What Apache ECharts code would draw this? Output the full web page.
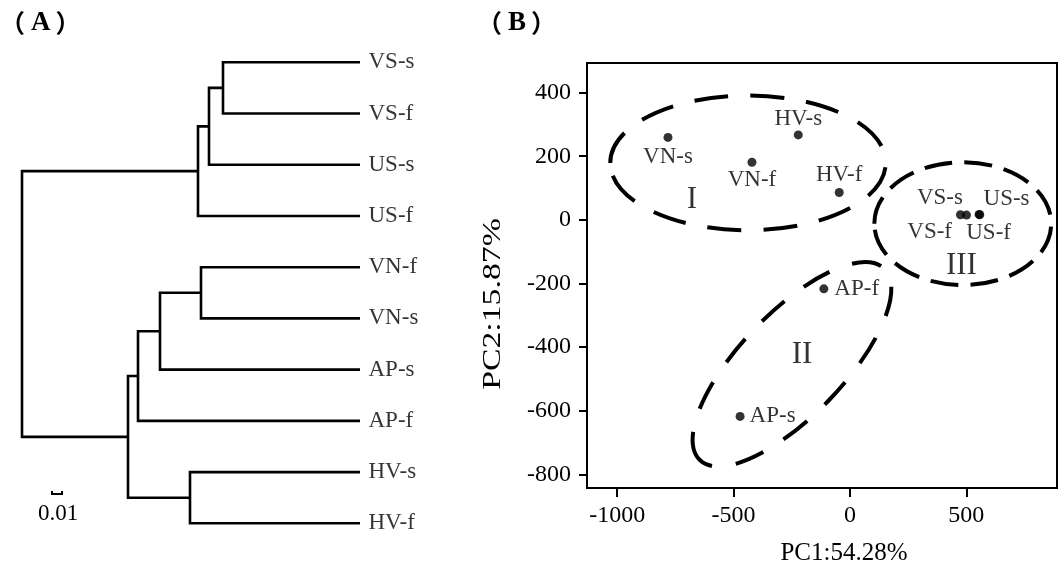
<!DOCTYPE html>
<html>
<head>
<meta charset="utf-8">
<script src="https://cdn.jsdelivr.net/npm/echarts@6/dist/echarts.min.js"></script>
<style>
  html, body { margin: 0; padding: 0; background: #fff; }
  #chart { width: 1060px; height: 571px; }
</style>
</head>
<body>
<div id="chart"></div>
<script>
// ---- (A) dendrogram ----
const leafNames = ['VS-s', 'VS-f', 'US-s', 'US-f', 'VN-f', 'VN-s', 'AP-s', 'AP-f', 'HV-s', 'HV-f']
const leafDepth = 0.338
// merges: leaves are 0..9, each merge creates node 10, 11, ...
const mergeA = [0, 10, 11, 4, 13, 14, 8, 15, 12]
const mergeB = [1, 2, 3, 5, 6, 7, 9, 16, 17]
const mergeHeight = [0.201, 0.187, 0.176, 0.179, 0.138, 0.116, 0.168, 0.106, 0]
const scaleBar = 0.01
const scaleBarPos = [0.030, 8.43]

// ---- (B) PCA ----
const pcaNames = ['VN-s', 'VN-f', 'HV-s', 'HV-f', 'VS-s', 'VS-f', 'US-s', 'US-f', 'AP-f', 'AP-s']
const pc1 = [-782, -421, -222, -46, 475, 501, 555, 558, -112, -472]
const pc2 = [259, 181, 267, 86, 16, 15, 17, 16, -217, -618]
const xTicks = [-1000, -500, 0, 500]
const yTicks = [-800, -600, -400, -200, 0, 200, 400]
const groupNames = ['I', 'II', 'III']
const groupX = [-679, -206, 479]
const groupY = [62, -423, -145]
// cluster ellipses: centre, end of the major semi-axis, minor/major ratio
const ellCx = [-438, -249, 485]
const ellCy = [179, -454, -12]
const ellEx = [154, 147, 865]
const ellEy = [179, -153, -12]
const ellRatio = [0.489, 0.388, 0.695]

const serif = "'Liberation Serif', 'Times New Roman', serif"
const ink = '#000'

// dendrogram layout: leaf rows, internal node sits midway between its children
const nodeY = leafNames.map((_, i) => i)
const nodeH = leafNames.map(() => leafDepth)
mergeA.forEach((a, k) => {
  nodeY.push((nodeY[a] + nodeY[mergeB[k]]) / 2)
  nodeH.push(mergeHeight[k])
})
const treeData = mergeA.map((a, k) => {
  const b = mergeB[k]
  return [mergeHeight[k], nodeY[a], nodeY[b], nodeH[a], nodeH[b]]
})

const labelPlace = {
  'VN-s': { position: 'bottom', distance: 4 },
  'VN-f': { position: 'bottom', distance: 2 },
  'HV-s': { position: 'top', distance: 0 },
  'HV-f': { position: 'top', distance: 2 },
  'VS-s': { position: 'left', offset: [12, -17] },
  'VS-f': { position: 'left', offset: [-5, 17] },
  'US-s': { position: 'right', offset: [-5, -15] },
  'US-f': { position: 'right', offset: [-23, 18] },
  'AP-f': { position: 'right', distance: 6 },
  'AP-s': { position: 'right', distance: 5 }
}
const ellDash = [[34, 22], [30, 24], [28, 12]]

const panelTitle = (letter, left) => ({
  text: '{p|（}{a|' + letter + '}{p|）}', left: left, top: 10, padding: 0,
  textStyle: {
    rich: {
      p: { fontFamily: "'Noto Sans CJK SC'", fontSize: 25, color: ink },
      a: { fontFamily: serif, fontSize: 27, fontWeight: 'bold', color: ink, padding: [0, 5, 0, 6] }
    }
  }
})

const chart = echarts.init(document.getElementById('chart'))

const option = {
  animation: false,
  backgroundColor: '#fff',
  title: [panelTitle('A', 0), panelTitle('B', 477)],
  grid: [
    { left: 22, right: 700, top: 62.3, bottom: 47.7 },
    { left: 587, right: 3, top: 63, bottom: 78, show: true, borderColor: '#000', borderWidth: 2 }
  ],
  xAxis: [
    { gridIndex: 0, type: 'value', min: 0, max: leafDepth, show: false },
    {
      gridIndex: 1, type: 'value', min: -1130, max: 890,
      name: 'PC1:54.28%', nameLocation: 'middle', nameGap: 53,
      nameTextStyle: { fontFamily: serif, fontSize: 25, color: ink, padding: [0, 0, 0, 44] },
      axisLine: { show: true, onZero: false, lineStyle: { color: '#000', width: 2 } },
      axisTick: { show: true, length: 9, customValues: xTicks, lineStyle: { color: '#000', width: 2 } },
      axisLabel: { customValues: xTicks, formatter: v => String(v), margin: 16, fontFamily: serif, fontSize: 24, color: ink },
      splitLine: { show: false }
    }
  ],
  yAxis: [
    { gridIndex: 0, type: 'value', min: 0, max: 9, inverse: true, show: false },
    {
      gridIndex: 1, type: 'value', min: -843, max: 493,
      axisLine: { show: true, onZero: false, lineStyle: { color: '#000', width: 2 } },
      axisTick: { show: true, length: 8, customValues: yTicks, lineStyle: { color: '#000', width: 2 } },
      axisLabel: { customValues: yTicks, formatter: v => String(v), margin: 16, fontFamily: serif, fontSize: 24, color: ink },
      splitLine: { show: false }
    }
  ],
  graphic: [
    {
      type: 'text', x: 493, y: 304, rotation: Math.PI / 2, scaleX: 1.35,
      style: { text: 'PC2:15.87%', font: "25px 'Liberation Serif'", fill: ink, align: 'center', verticalAlign: 'middle' }
    }
  ],
  series: [
    {
      type: 'custom', xAxisIndex: 0, yAxisIndex: 0, silent: true,
      data: treeData,
      renderItem: (params, api) => {
        const h = api.value(0)
        const ya = api.value(1)
        const yb = api.value(2)
        return {
          type: 'polyline',
          shape: { points: [api.coord([api.value(3), ya]), api.coord([h, ya]), api.coord([h, yb]), api.coord([api.value(4), yb])] },
          style: { stroke: '#000', lineWidth: 2.6, fill: null }
        }
      }
    },
    {
      type: 'scatter', xAxisIndex: 0, yAxisIndex: 0, silent: true,
      symbolSize: 1, itemStyle: { color: 'rgba(0,0,0,0)' },
      data: leafNames.map((n, i) => [leafDepth, i, n]),
      label: { show: true, position: 'right', distance: 8, formatter: p => p.data[2], fontFamily: serif, fontSize: 23, color: ink }
    },
    {
      type: 'custom', xAxisIndex: 0, yAxisIndex: 0, silent: true,
      data: [scaleBarPos],
      renderItem: (params, api) => {
        const p = api.coord([api.value(0), api.value(1)])
        const w = api.size([scaleBar, 0])[0]
        return {
          type: 'group',
          children: [
            { type: 'polyline', shape: { points: [[p[0], p[1] - 3], [p[0], p[1]], [p[0] + w, p[1]], [p[0] + w, p[1] - 3]] },
              style: { stroke: '#000', lineWidth: 2, fill: null } },
            { type: 'text', x: p[0] + w / 2 + 1, y: p[1] + 20,
              style: { text: String(scaleBar), font: "23px 'Liberation Serif'", fill: ink, align: 'center', verticalAlign: 'middle' } }
          ]
        }
      }
    },
    {
      type: 'custom', xAxisIndex: 1, yAxisIndex: 1, silent: true,
      data: ellCx.map((c, i) => [c, ellCy[i], ellEx[i], ellEy[i], ellRatio[i]]),
      renderItem: (params, api) => {
        const c = api.coord([api.value(0), api.value(1)])
        const e = api.coord([api.value(2), api.value(3)])
        const dx = e[0] - c[0]
        const dy = e[1] - c[1]
        const a = Math.hypot(dx, dy)
        return {
          type: 'ellipse',
          x: c[0], y: c[1],
          rotation: -Math.atan2(dy, dx),
          shape: { cx: 0, cy: 0, rx: a, ry: a * api.value(4) },
          style: { stroke: '#000', lineWidth: 4, fill: null, lineDash: ellDash[params.dataIndex] }
        }
      }
    },
    {
      type: 'scatter', xAxisIndex: 1, yAxisIndex: 1, silent: true,
      symbol: 'circle', symbolSize: 9, itemStyle: { color: '#000' },
      data: pcaNames.map((n, i) => ({
        name: n,
        value: [pc1[i], pc2[i]],
        label: Object.assign({ show: true }, labelPlace[n])
      })),
      label: { show: true, formatter: '{b}', fontFamily: serif, fontSize: 23, color: ink }
    },
    {
      type: 'scatter', xAxisIndex: 1, yAxisIndex: 1, silent: true,
      symbolSize: 1, itemStyle: { color: 'rgba(0,0,0,0)' },
      data: groupNames.map((n, i) => ({ name: n, value: [groupX[i], groupY[i]] })),
      label: { show: true, position: 'inside', formatter: '{b}', fontFamily: serif, fontSize: 31, color: ink }
    }
  ]
}

chart.setOption(option)
</script>
</body>
</html>
